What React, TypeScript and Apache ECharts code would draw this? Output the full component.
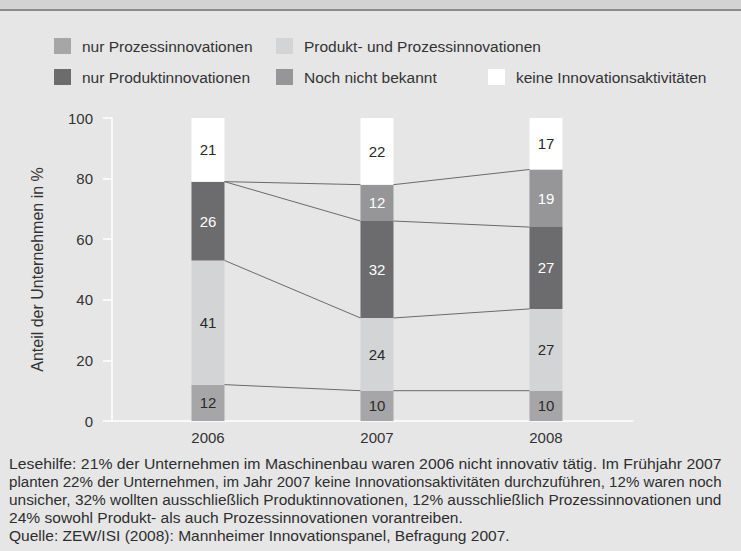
import React, { useEffect, useRef } from 'react';
import * as echarts from 'echarts';

// ---- data ----
const years = [2006, 2007, 2008];
const seriesNames = [
  'nur Prozessinnovationen',
  'Produkt- und Prozessinnovationen',
  'nur Produktinnovationen',
  'Noch nicht bekannt',
  'keine Innovationsaktivitäten',
];
const nurProzess = [12, 10, 10];
const produktUndProzess = [41, 24, 27];
const nurProdukt = [26, 32, 27];
const nochNichtBekannt = [0, 12, 19];
const keineInnovation = [21, 22, 17];
const yAxisTitle = 'Anteil der Unternehmen in %';
const footnoteLines = [
  'Lesehilfe: 21% der Unternehmen im Maschinenbau waren 2006 nicht innovativ tätig. Im Frühjahr 2007',
  'planten 22% der Unternehmen, im Jahr 2007 keine Innovationsaktivitäten durchzuführen, 12% waren noch',
  'unsicher, 32% wollten ausschließlich Produktinnovationen, 12% ausschließlich Prozessinnovationen und',
  '24% sowohl Produkt- als auch Prozessinnovationen vorantreiben.',
  'Quelle: ZEW/ISI (2008): Mannheimer Innovationspanel, Befragung 2007.',
];

// ---- styles / layout ----
const FONT = '"Liberation Sans", Arial, sans-serif';
const seriesValues = [nurProzess, produktUndProzess, nurProdukt, nochNichtBekannt, keineInnovation];
const seriesColors = ['#a6a6a8', '#d3d4d6', '#6c6c6e', '#969698', '#ffffff'];
const labelColors = ['#2a2a2a', '#2a2a2a', '#ffffff', '#ffffff', '#2a2a2a'];
const legendPos = [
  { left: 54, top: 38 },
  { left: 276, top: 38 },
  { left: 54, top: 69 },
  { left: 276, top: 69 },
  { left: 488, top: 69 },
];
const BAR_W = 33;
const footnoteY = [464, 482, 500, 518, 536];
const footnoteW = [713, 713, 713, 454, 501];

function measure(text: string, font: string): number {
  const c = document.createElement('canvas');
  const ctx = c.getContext('2d');
  if (!ctx) return 0;
  ctx.font = font;
  return ctx.measureText(text).width;
}

export default function App() {
  const ref = useRef<HTMLDivElement>(null);
  useEffect(() => {
    if (!ref.current) return;
    const chart = echarts.init(ref.current, null, { renderer: 'svg' });

    // cumulative tops for connector lines
    const cum: number[][] = [];
    seriesValues.forEach((arr, s) => {
      cum.push(arr.map((v, i) => v + (s > 0 ? cum[s - 1][i] : 0)));
    });
    const connectors: number[][] = [];
    for (let s = 0; s < 4; s++) {
      for (let i = 0; i < years.length - 1; i++) {
        connectors.push([years[i], cum[s][i], years[i + 1], cum[s][i + 1]]);
      }
    }

    // value first so that the stack is computed on the y dimension
    const barSeries = seriesNames.map((name, s) => ({
      name,
      type: 'bar',
      stack: 'total',
      barWidth: BAR_W,
      encode: { x: 1, y: 0 },
      itemStyle: { color: seriesColors[s] },
      label: {
        show: true,
        position: 'inside',
        color: labelColors[s],
        fontSize: 15,
        fontFamily: FONT,
        formatter: (p: any) => (p.value[0] ? String(p.value[0]) : ''),
      },
      data: years.map((y, i) => [seriesValues[s][i], y]),
    }));

    const FN_FONT_SIZE = 14.5;
    const fnFont = `${FN_FONT_SIZE}px "Liberation Sans", Arial, sans-serif`;
    const footnotes = footnoteLines.map((t, i) => {
      const w = measure(t, fnFont);
      const sx = w > 0 ? footnoteW[i] / w : 1;
      return {
        type: 'text',
        x: 9,
        y: footnoteY[i],
        scaleX: sx,
        silent: true,
        style: {
          text: t,
          x: 0,
          y: 0,
          fill: '#2e2e2e',
          font: fnFont,
          textVerticalAlign: 'middle',
        },
      };
    });

    const option: any = {
      animation: false,
      backgroundColor: '#e6e6e7',
      textStyle: { fontFamily: FONT },
      grid: { left: 112, right: 108, top: 118, bottom: 130 },
      legend: seriesNames.map((n, i) => ({
        data: [n],
        left: legendPos[i].left,
        top: legendPos[i].top,
        padding: 0,
        itemWidth: 17,
        itemHeight: 16,
        icon: 'rect',
        selectedMode: false,
        textStyle: { fontSize: 15.5, color: '#333', fontFamily: FONT, padding: [0, 0, 0, 6] },
      })),
      xAxis: {
        type: 'value',
        min: 2005.432,
        max: 2008.515,
        axisLine: { show: true, lineStyle: { color: '#ffffff', width: 1.5 } },
        axisTick: { show: false },
        splitLine: { show: false },
        axisLabel: {
          customValues: years,
          formatter: (v: number) => String(v),
          fontSize: 15,
          color: '#333',
          margin: 9,
          fontFamily: FONT,
        },
      },
      yAxis: {
        type: 'value',
        min: 0,
        max: 100,
        interval: 20,
        name: yAxisTitle,
        nameLocation: 'middle',
        nameGap: 67,
        nameTextStyle: { fontSize: 16, color: '#333', fontFamily: FONT },
        axisLine: { show: true, lineStyle: { color: '#ffffff', width: 1.5 } },
        axisTick: { show: true, length: 9, lineStyle: { color: '#ffffff', width: 1.5 } },
        splitLine: { show: false },
        axisLabel: { fontSize: 15, color: '#333', margin: 19, fontFamily: FONT },
      },
      graphic: [
        { type: 'rect', shape: { x: 0, y: 0, width: 741, height: 9 }, style: { fill: '#d3d3d4' }, silent: true },
        { type: 'rect', shape: { x: 0, y: 9, width: 741, height: 2 }, style: { fill: '#8b8b8c' }, silent: true },
        ...footnotes,
      ],
      series: [
        ...barSeries,
        {
          type: 'custom',
          name: 'connectors',
          silent: true,
          encode: { x: [0, 2], y: [1, 3] },
          data: connectors,
          z: 3,
          renderItem: (params: any, api: any) => {
            const p0 = api.coord([api.value(0), api.value(1)]);
            const p1 = api.coord([api.value(2), api.value(3)]);
            return {
              type: 'line',
              shape: { x1: p0[0] + BAR_W / 2, y1: p0[1], x2: p1[0] - BAR_W / 2, y2: p1[1] },
              style: { stroke: '#6a6a6a', lineWidth: 1 },
            };
          },
        },
      ],
    };
    chart.setOption(option);
    return () => chart.dispose();
  }, []);
  return <div ref={ref} style={{ position: 'absolute', left: 0, top: 0, width: 741, height: 551 }} />;
}
